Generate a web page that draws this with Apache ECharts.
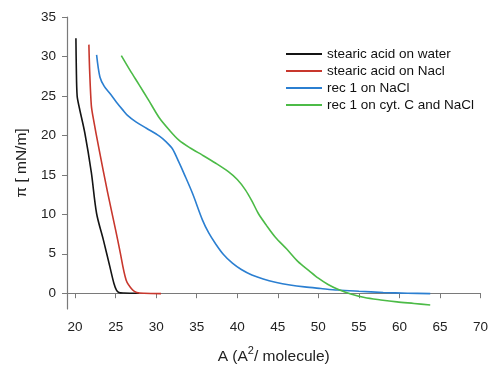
<!DOCTYPE html>
<html>
<head>
<meta charset="utf-8">
<script src="https://cdn.jsdelivr.net/npm/echarts@6/dist/echarts.min.js"></script>
<style>html,body{margin:0;padding:0;background:#fff}#c{width:491px;height:371px}</style>
</head>
<body>
<div id="c"></div>
<script>
const seriesNames = ['stearic acid on water', 'stearic acid on Nacl', 'rec 1 on NaCl', 'rec 1 on cyt. C and NaCl'];
const xTicks = [20, 25, 30, 35, 40, 45, 50, 55, 60, 65, 70];
const yTicks = [0, 5, 10, 15, 20, 25, 30, 35];
const stearicWater = [[20.1,32.3],[20.15,28.5],[20.25,25.0],[20.5,23.6],[21.2,20.3],[22.0,15.3],[22.65,10.1],[23.5,6.7],[24.3,3.3],[24.8,1.2],[25.1,0.4],[25.4,0.1],[26.0,0.03],[27.9,0.0]];
const stearicNaCl = [[21.7,31.5],[21.8,28.0],[22.0,23.8],[22.2,22.4],[23.0,18.0],[24.0,12.8],[25.0,8.0],[25.5,5.5],[26.3,1.65],[27.1,0.4],[27.6,0.1],[28.5,0.0],[30.6,-0.05]];
const rec1NaCl = [[22.65,30.2],[23.06,27.4],[23.6,26.2],[24.3,25.3],[25.1,24.2],[25.9,23.2],[26.5,22.5],[27.5,21.7],[28.8,20.9],[30.4,19.9],[31.2,19.2],[32.0,18.3],[32.8,16.6],[33.5,15.0],[34.5,12.6],[35.7,9.3],[36.5,7.6],[37.3,6.3],[38.3,4.9],[39.4,3.8],[40.5,3.0],[41.8,2.3],[43.2,1.8],[44.7,1.4],[46.5,1.05],[48.3,0.8],[50.3,0.6],[52.4,0.4],[55.0,0.25],[58.0,0.1],[61.0,0.0],[63.8,-0.05]];
const rec1CytC = [[25.7,30.1],[26.8,28.2],[27.9,26.4],[29.1,24.4],[30.4,22.2],[31.6,20.7],[32.8,19.4],[34.2,18.4],[35.7,17.5],[37.3,16.5],[38.9,15.4],[40.0,14.4],[41.0,13.1],[41.8,11.7],[42.6,10.1],[43.6,8.6],[44.7,7.1],[46.1,5.6],[47.5,4.0],[48.8,2.9],[50.0,1.9],[51.2,1.1],[52.4,0.5],[54.0,-0.1],[55.7,-0.55],[57.7,-0.85],[59.7,-1.1],[61.8,-1.3],[63.8,-1.5]];
const colors = ['#141414', '#c8372d', '#2b7fd1', '#4cbb47'];
const allData = [stearicWater, stearicNaCl, rec1NaCl, rec1CytC];

const font = 'Liberation Sans, Arial, sans-serif';
const chart = echarts.init(document.getElementById('c'));
chart.setOption({
  animation: false,
  backgroundColor: '#fff',
  grid: { left: 67, top: 17, right: 7, bottom: 62 },
  legend: {
    orient: 'vertical', left: 281, top: 42, itemGap: 3,
    itemWidth: 36, itemHeight: 2, icon: 'rect',
    textStyle: { fontFamily: font, fontSize: 13.5, color: '#111' },
    data: seriesNames
  },
  xAxis: {
    type: 'value', min: 19, max: 70,
    name: '{a|A (A}{s|2}{a|/ molecule)}', nameLocation: 'middle', nameGap: 36,
    nameTextStyle: { rich: { a: { fontFamily: font, fontSize: 15.5, color: '#222', verticalAlign: 'bottom', lineHeight: 20 }, s: { fontFamily: font, fontSize: 11, color: '#222', verticalAlign: 'top', lineHeight: 20, padding: [0,0,8,0] } } },
    axisLine: { lineStyle: { color: '#7a7a7a', width: 1.2 } },
    axisTick: { show: true, length: 5, customValues: xTicks, lineStyle: { color: '#7a7a7a' } },
    axisLabel: { customValues: xTicks, fontFamily: font, fontSize: 13.5, color: '#222', margin: 11 },
    splitLine: { show: false }
  },
  yAxis: {
    type: 'value', min: -2, max: 35,
    name: 'π [ mN/m]', nameLocation: 'middle', nameGap: 37, nameRotate: 90,
    nameTextStyle: { fontFamily: font, fontSize: 15.5, color: '#222' },
    axisLine: { show: true, lineStyle: { color: '#7a7a7a', width: 1.2 } },
    axisTick: { show: true, length: 5, customValues: yTicks, lineStyle: { color: '#7a7a7a' } },
    axisLabel: { customValues: yTicks, fontFamily: font, fontSize: 13.5, color: '#222', margin: 11 },
    splitLine: { show: false }
  },
  series: seriesNames.map((n, i) => ({
    name: n, type: 'line', data: allData[i], smooth: 0.3, showSymbol: false,
    color: colors[i], lineStyle: { width: 1.6, color: colors[i] }
  }))
});
</script>
</body>
</html>
